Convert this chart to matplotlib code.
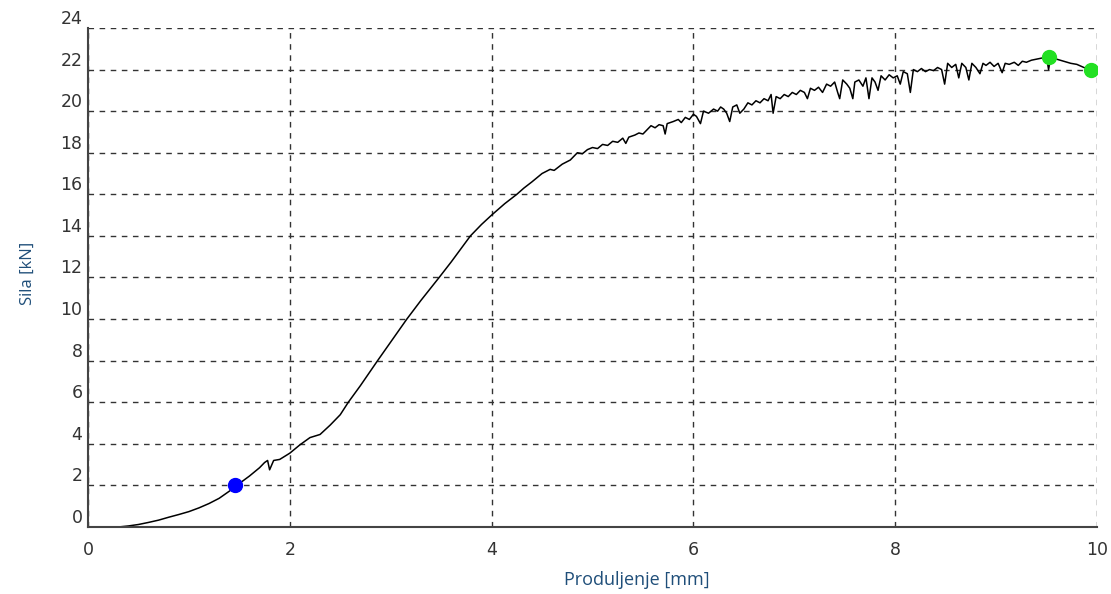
import matplotlib
matplotlib.use("Agg")
import matplotlib.pyplot as plt

# =============================================================================
# DATA: (elongation [mm], force [kN])
# =============================================================================
curve_points = [
    (0.0, 0.0), (0.3, 0.0), (0.4, 0.05), (0.5, 0.12), (0.6, 0.22), (0.7, 0.33),
    (0.8, 0.47), (0.9, 0.6), (1.0, 0.74), (1.1, 0.92), (1.2, 1.13), (1.3, 1.38),
    (1.4, 1.72), (1.46, 1.95), (1.6, 2.45), (1.7, 2.85), (1.75, 3.1), (1.78, 3.2),
    (1.80, 2.75), (1.84, 3.2), (1.9, 3.25), (2.0, 3.55), (2.1, 3.95), (2.2, 4.3),
    (2.3, 4.45), (2.4, 4.9), (2.5, 5.4), (2.58, 6.0), (2.7, 6.8), (2.87, 8.0),
    (3.0, 8.9), (3.16, 10.0), (3.3, 10.9), (3.48, 12.0), (3.6, 12.75),
    (3.79, 14.0), (3.9, 14.55), (4.0, 15.0), (4.13, 15.55), (4.25, 16.0),
    (4.32, 16.3), (4.4, 16.6), (4.5, 17.0), (4.58, 17.2), (4.62, 17.15),
    (4.7, 17.45), (4.78, 17.65), (4.85, 18.0), (4.9, 17.95), (4.95, 18.15),
    (5.0, 18.25), (5.05, 18.2), (5.1, 18.4), (5.15, 18.35), (5.2, 18.55),
    (5.25, 18.5), (5.3, 18.7), (5.33, 18.45), (5.36, 18.75), (5.42, 18.85),
    (5.46, 18.95), (5.5, 18.9), (5.54, 19.1), (5.58, 19.3), (5.62, 19.2),
    (5.66, 19.35), (5.7, 19.3), (5.72, 18.9), (5.74, 19.4), (5.8, 19.5),
    (5.85, 19.6), (5.88, 19.45), (5.92, 19.7), (5.96, 19.6), (6.0, 19.85),
    (6.03, 19.75), (6.07, 19.4), (6.1, 20.0), (6.15, 19.9), (6.2, 20.1),
    (6.24, 20.0), (6.27, 20.2), (6.3, 20.1), (6.33, 19.9), (6.36, 19.5),
    (6.39, 20.2), (6.43, 20.3), (6.46, 19.9), (6.5, 20.1), (6.54, 20.4),
    (6.58, 20.3), (6.62, 20.5), (6.66, 20.4), (6.7, 20.6), (6.74, 20.5),
    (6.77, 20.8), (6.79, 19.9), (6.82, 20.7), (6.86, 20.6), (6.9, 20.8),
    (6.94, 20.7), (6.98, 20.9), (7.02, 20.8), (7.06, 21.0), (7.1, 20.9),
    (7.13, 20.6), (7.16, 21.1), (7.2, 21.0), (7.24, 21.15), (7.28, 20.9),
    (7.32, 21.3), (7.36, 21.2), (7.4, 21.4), (7.43, 20.9), (7.45, 20.6),
    (7.48, 21.5), (7.52, 21.3), (7.55, 21.1), (7.58, 20.6), (7.6, 21.4),
    (7.64, 21.5), (7.68, 21.2), (7.71, 21.6), (7.74, 20.6), (7.77, 21.6),
    (7.8, 21.4), (7.83, 21.0), (7.86, 21.7), (7.9, 21.5), (7.94, 21.75),
    (7.98, 21.6), (8.02, 21.7), (8.05, 21.3), (8.08, 21.9), (8.12, 21.8),
    (8.15, 20.9), (8.18, 22.0), (8.22, 21.9), (8.26, 22.05), (8.3, 21.9),
    (8.34, 22.0), (8.38, 21.95), (8.42, 22.1), (8.46, 22.0), (8.49, 21.3),
    (8.52, 22.3), (8.56, 22.1), (8.6, 22.25), (8.63, 21.6), (8.66, 22.3),
    (8.7, 22.1), (8.73, 21.5), (8.76, 22.3), (8.8, 22.1), (8.84, 21.8),
    (8.87, 22.3), (8.9, 22.2), (8.94, 22.35), (8.98, 22.15), (9.02, 22.3),
    (9.06, 21.85), (9.09, 22.3), (9.13, 22.25), (9.18, 22.35), (9.22, 22.2),
    (9.26, 22.4), (9.3, 22.35), (9.35, 22.45), (9.4, 22.5), (9.45, 22.55),
    (9.5, 22.6), (9.52, 22.0), (9.54, 22.55), (9.6, 22.5), (9.67, 22.4),
    (9.74, 22.3), (9.8, 22.25), (9.87, 22.1), (9.94, 22.0),
]
elongation = [p[0] for p in curve_points]
force = [p[1] for p in curve_points]

# marked points
blue_x, blue_y = [1.46], [2.0]
green_x, green_y = [9.52, 9.94], [22.6, 22.0]

x_ticks = [0, 2, 4, 6, 8, 10]
y_ticks = [0, 2, 4, 6, 8, 10, 12, 14, 16, 18, 20, 22, 24]

label_color = "#1f4e79"
tick_color = "#333333"

fig = plt.figure(figsize=(11.11, 5.94), dpi=100)
ax = fig.add_axes([0.0792, 0.1128, 0.9082, 0.8401])

ax.plot(elongation, force, color="black", linewidth=1.1)
ax.plot(blue_x, blue_y, "o", color="#0000ff", markersize=10, zorder=5)
ax.plot(green_x, green_y, "o", color="#22e022", markersize=10, zorder=5)

ax.set_xlim(0, 10)
ax.set_ylim(0, 24)
ax.set_xticks(x_ticks)
ax.set_yticks(y_ticks)

# dashed grid also forms the top and right border
ax.grid(True, linestyle=(0, (4, 4)), color="#333333", linewidth=1.0)
ax.set_axisbelow(True)
for side in ["top", "right"]:
    ax.spines[side].set_visible(False)
for side in ["left", "bottom"]:
    ax.spines[side].set_color("#444444")
    ax.spines[side].set_linewidth(1.5)

ax.tick_params(axis="both", length=0, labelsize=12.5, colors=tick_color)
ax.tick_params(axis="x", pad=10)
ax.tick_params(axis="y", pad=4)
for lbl in ax.get_yticklabels():
    lbl.set_verticalalignment("bottom")

fig.text(0.573, 0.024, "Produljenje [mm]", ha="center", va="center",
         fontsize=13, color=label_color, family="Open Sans")
fig.text(0.025, 0.54, "Sila [kN]", ha="center", va="center", rotation=90,
         fontsize=12, color=label_color, family="Open Sans")

fig.savefig("out.png", dpi=100)
